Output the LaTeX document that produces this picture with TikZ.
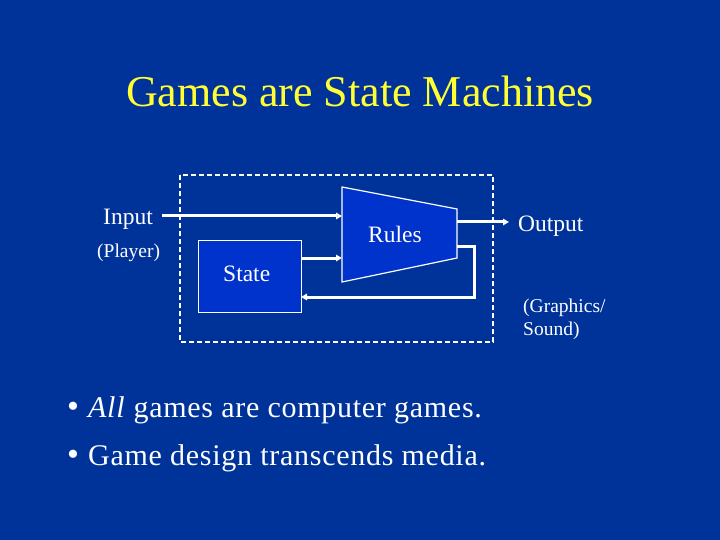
\documentclass[tikz,border=0pt]{standalone}
\usepackage{fontspec}
\setmainfont{Liberation Serif}
\newfontfamily\spacedserif[LetterSpace=2.4]{Liberation Serif}
\usetikzlibrary{arrows.meta}
\definecolor{bgblue}{RGB}{0,51,153}
\definecolor{boxblue}{RGB}{0,51,204}
\definecolor{titleyellow}{RGB}{255,255,51}
\tikzset{
  lbl/.style={text=white, inner sep=0pt, anchor=base west, font=\fontsize{23.5}{27}\selectfont},
  smalllbl/.style={text=white, inner sep=0pt, anchor=base west, font=\fontsize{19.5}{23}\selectfont},
  bullettxt/.style={text=white, inner sep=0pt, anchor=base west, font=\fontsize{30}{36}\spacedserif},
  bulletdot/.style={text=white, inner sep=0pt, anchor=base, font=\fontsize{34}{40}\selectfont},
  flow/.style={draw=white, line width=3pt, -{Triangle[length=6pt,width=6.5pt]}},
  blockbox/.style={draw=white, line width=1.2pt, fill=boxblue},
}
\begin{document}
\begin{tikzpicture}[x=1pt,y=-1pt]
\fill[bgblue] (0,0) rectangle (720,540);
\useasboundingbox (0,0) rectangle (720,540);
% title
\node[text=titleyellow, inner sep=0pt, anchor=base, font=\fontsize{44}{52}\selectfont] (title) at (360,107) {Games are State Machines};
% dashed frame
\draw[white, line width=1.5pt, dash pattern=on 5pt off 3pt] (180,175) rectangle (493,342);
% state box
\node[blockbox, minimum width=103pt, minimum height=72pt, inner sep=0pt, anchor=north west] (state) at (198,240) {};
\node[lbl] (statetxt) at (223,281) {State};
% rules trapezoid
\coordinate (rtl) at (342,187);
\coordinate (rtr) at (457,209);
\coordinate (rbr) at (457,258);
\coordinate (rbl) at (342,282);
\draw[blockbox] (rtl) -- (rtr) -- (rbr) -- (rbl) -- cycle;
\node[lbl] (rules) at (368,243) {Rules};
% labels
\node[lbl] (input) at (103,225) {Input};
\node[smalllbl] (player) at (97,257) {(Player)};
\node[lbl] (output) at (518,231) {Output};
\node[smalllbl] (gfx) at (523,312) {(Graphics/};
\node[smalllbl] (snd) at (523,335) {Sound)};
% connectors
\coordinate (inS) at (162,216);
\coordinate (inE) at (342,216);
\coordinate (stE) at (342,258);
\coordinate (outS) at (457,222);
\coordinate (outE) at (509,222);
\coordinate (fbS) at (457,246);
\coordinate (fbE) at (301,297);
\draw[flow] (inS) -- (inE);
\draw[flow] (state.east |- stE) -- (stE);
\draw[flow] (outS) -- (outE);
\draw[flow] (fbS) -- (474,246) -- (474,297) -- (fbE);
% bullets
\node[bulletdot] (b1) at (73,417) {\textbullet};
\node[bullettxt] (t1) at (88,417) {\textit{All} games are computer games.};
\node[bulletdot] (b2) at (73,465) {\textbullet};
\node[bullettxt] (t2) at (88,465) {Game design transcends media.};
\end{tikzpicture}
\end{document}
